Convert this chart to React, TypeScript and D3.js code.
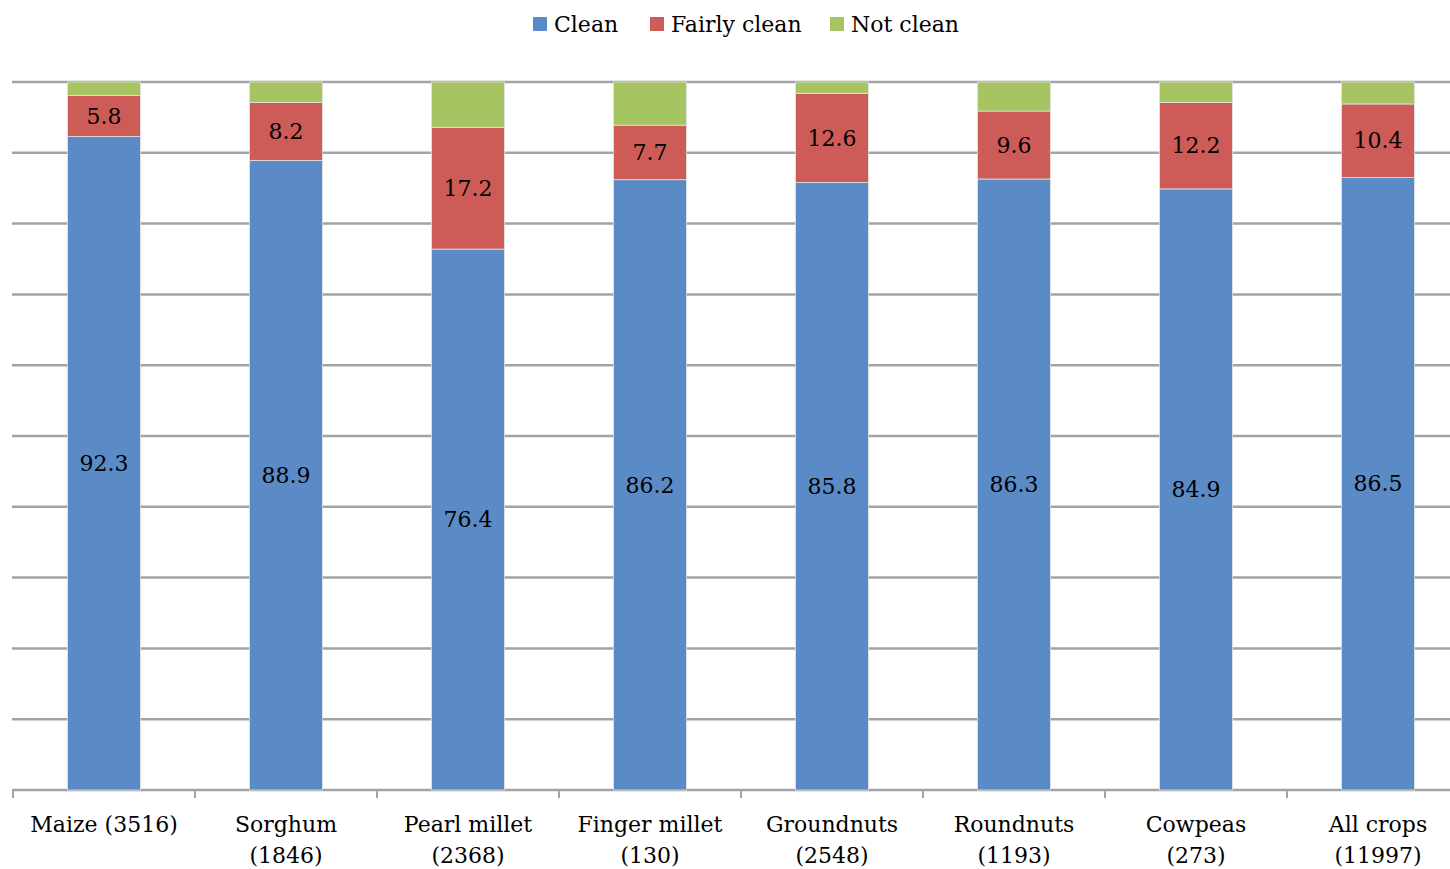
import React from "react";
import * as d3 from "d3";

const categories = [
  ["Maize (3516)"],
  ["Sorghum", "(1846)"],
  ["Pearl millet", "(2368)"],
  ["Finger millet", "(130)"],
  ["Groundnuts", "(2548)"],
  ["Roundnuts", "(1193)"],
  ["Cowpeas", "(273)"],
  ["All crops", "(11997)"],
];
const clean = [92.3, 88.9, 76.4, 86.2, 85.8, 86.3, 84.9, 86.5];
const fairlyClean = [5.8, 8.2, 17.2, 7.7, 12.6, 9.6, 12.2, 10.4];
const notClean = [1.9, 2.9, 6.4, 6.1, 1.6, 4.1, 2.9, 3.1];
const seriesNames = ["Clean", "Fairly clean", "Not clean"];
const colors = ["#5B8BC7", "#CD5B57", "#A6C562"];
const yTicks = [0, 10, 20, 30, 40, 50, 60, 70, 80, 90, 100];

const W = 1450;
const H = 869;
const FONT = "'DejaVu Serif', serif";

export default function App() {
  const keys = categories.map((c) => c.join(" "));
  const x = d3.scaleBand<string>().domain(keys).range([13, 1469]).paddingInner(0.6).paddingOuter(0.3);
  const y = d3.scaleLinear().domain([0, 100]).range([790, 82]);
  const step = x.step();

  const rows = keys.map((k, i) => ({ key: k, clean: clean[i], fairly: fairlyClean[i], not: notClean[i] }));
  const stack = d3.stack<any>().keys(["clean", "fairly", "not"])(rows);

  const legendItems = [
    { x: 533, label: seriesNames[0], color: colors[0] },
    { x: 650, label: seriesNames[1], color: colors[1] },
    { x: 830, label: seriesNames[2], color: colors[2] },
  ];

  return (
    <svg width={W} height={H} style={{ position: "absolute", left: 0, top: 0, background: "#fff" }} fontFamily={FONT}>
      {/* gridlines */}
      {yTicks.map((t) => (
        <line key={t} x1={12} x2={W} y1={y(t)} y2={y(t)} stroke="#A3A3A3" strokeWidth={2.5} />
      ))}
      {/* category ticks */}
      {d3.range(keys.length + 1).map((i) => (
        <line key={i} x1={13 + i * step} x2={13 + i * step} y1={790} y2={798} stroke="#A3A3A3" strokeWidth={2} />
      ))}
      {/* stacked bars */}
      {stack.map((layer, si) => (
        <g key={si}>
          {layer.map((d, i) => (
            <rect
              key={i}
              x={x(keys[i])}
              width={x.bandwidth()}
              y={y(d[1])}
              height={y(d[0]) - y(d[1])}
              fill={colors[si]}
              stroke="#E2E2E2"
              strokeWidth={0.8}
            />
          ))}
        </g>
      ))}
      {/* value labels for clean and fairly clean */}
      {stack.slice(0, 2).map((layer, si) =>
        layer.map((d, i) => (
          <text
            key={`${si}-${i}`}
            x={(x(keys[i]) as number) + x.bandwidth() / 2}
            y={(y(d[0]) + y(d[1])) / 2}
            dy="0.35em"
            textAnchor="middle"
            fontSize={22}
            fill="#000"
          >
            {(d[1] - d[0]).toFixed(1)}
          </text>
        ))
      )}
      {/* category labels */}
      {categories.map((lines, i) => (
        <text
          key={i}
          x={(x(keys[i]) as number) + x.bandwidth() / 2}
          y={832}
          textAnchor="middle"
          fontSize={22}
          fill="#000"
        >
          {lines.map((l, j) => (
            <tspan key={j} x={(x(keys[i]) as number) + x.bandwidth() / 2} dy={j === 0 ? 0 : 31}>
              {l}
            </tspan>
          ))}
        </text>
      ))}
      {/* legend */}
      {legendItems.map((it) => (
        <g key={it.label}>
          <rect x={it.x} y={17} width={14} height={14} fill={it.color} />
          <text x={it.x + 21} y={32} fontSize={22} fill="#000">
            {it.label}
          </text>
        </g>
      ))}
    </svg>
  );
}
